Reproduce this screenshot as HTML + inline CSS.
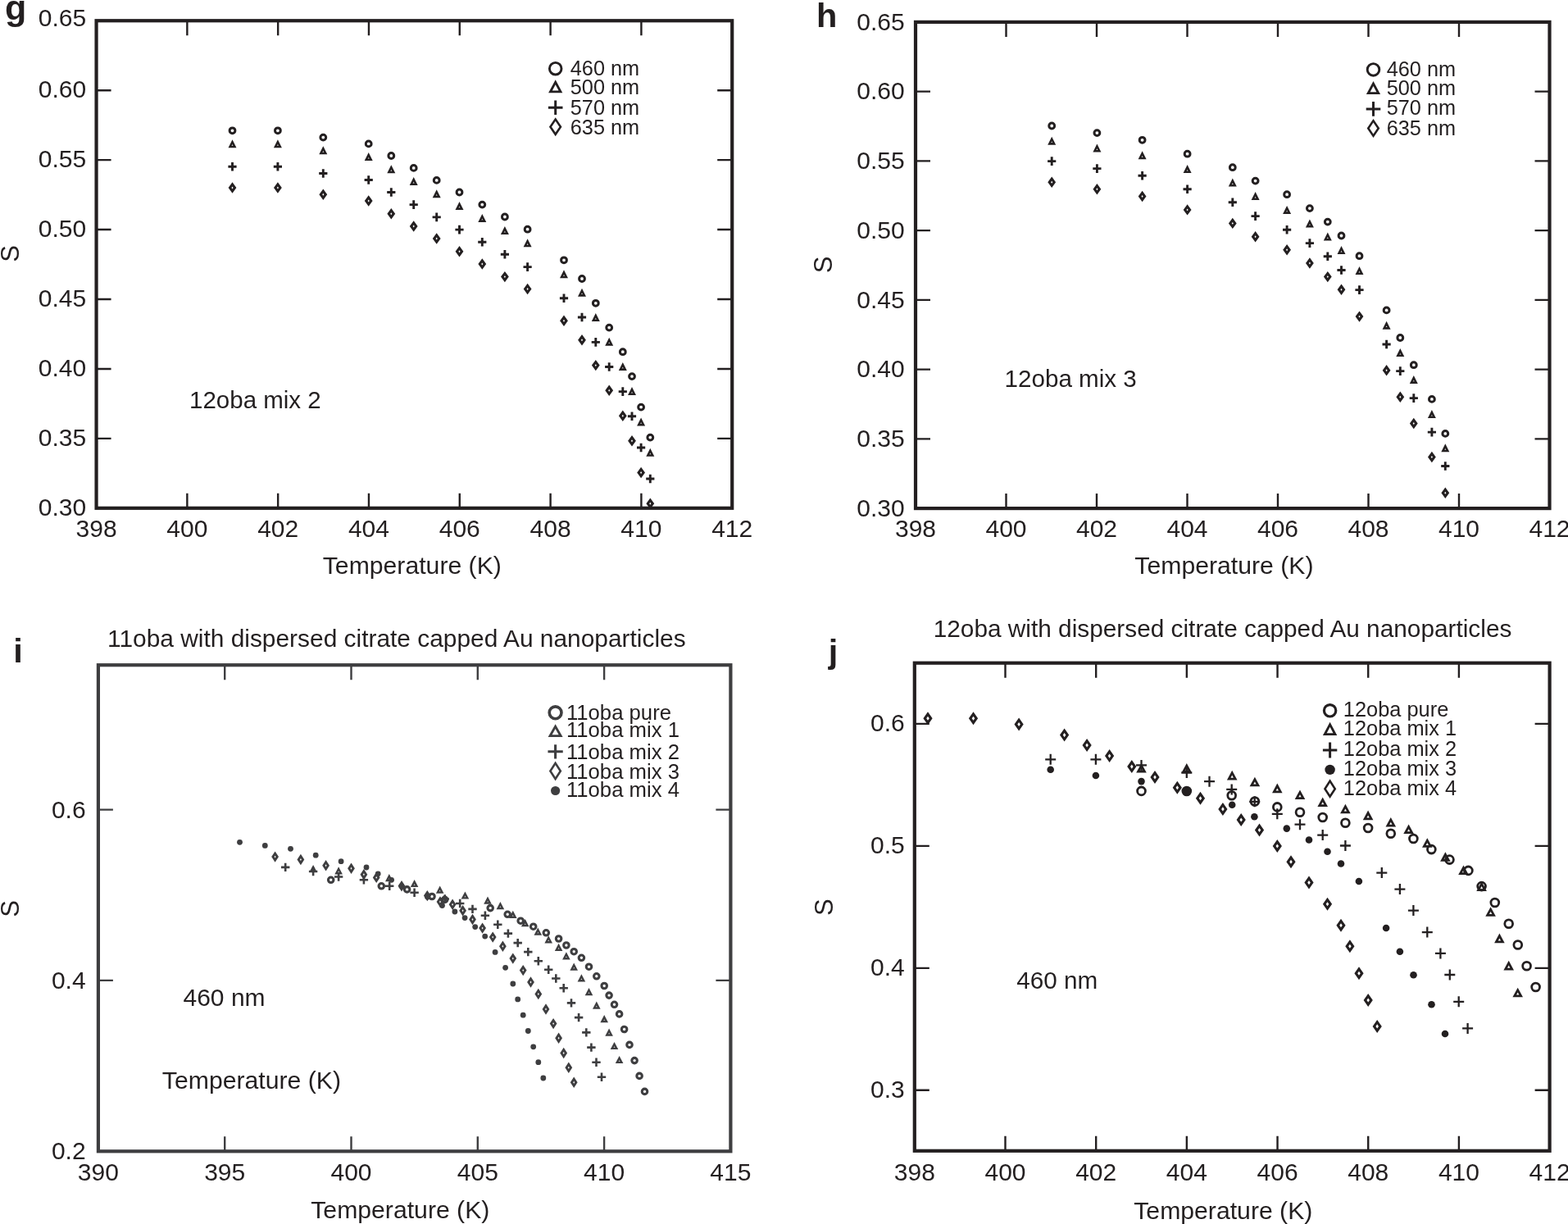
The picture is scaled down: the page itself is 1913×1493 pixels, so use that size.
<!DOCTYPE html>
<html><head><meta charset="utf-8"><title>Order parameter S vs temperature</title>
<style>html,body{margin:0;padding:0;background:#fff;}svg{display:block;}text{font-family:'Liberation Sans', Arial, Helvetica, sans-serif;}</style>
</head><body>
<svg width="1913" height="1493" viewBox="0 0 1913 1493">
<rect width="1913" height="1493" fill="#fff"/>
<text transform="translate(6 23.5)" font-size="43" font-weight="bold" fill="#231f20">g</text>
<text transform="translate(995.9 32.9)" font-size="41.5" font-weight="bold" fill="#231f20">h</text>
<text transform="translate(16.2 808.3)" font-size="41.5" font-weight="bold" fill="#231f20">i</text>
<text transform="translate(1010.7 809)" font-size="41.5" font-weight="bold" fill="#231f20">j</text>
<rect x="117.55" y="25.25" width="775.65" height="594.55" fill="none" stroke="#231f20" stroke-width="4.2"/>
<path d="M228.36 619.8V601.8M228.36 25.25V43.25M339.16 619.8V601.8M339.16 25.25V43.25M449.97 619.8V601.8M449.97 25.25V43.25M560.78 619.8V601.8M560.78 25.25V43.25M671.59 619.8V601.8M671.59 25.25V43.25M782.39 619.8V601.8M782.39 25.25V43.25M117.55 534.86H135.55M893.2 534.86H875.2M117.55 449.93H135.55M893.2 449.93H875.2M117.55 364.99H135.55M893.2 364.99H875.2M117.55 280.06H135.55M893.2 280.06H875.2M117.55 195.12H135.55M893.2 195.12H875.2M117.55 110.19H135.55M893.2 110.19H875.2" stroke="#231f20" stroke-width="2.4" fill="none"/>
<text transform="translate(117.55 654.7)" font-size="30" text-anchor="middle" fill="#231f20">398</text>
<text transform="translate(228.36 654.7)" font-size="30" text-anchor="middle" fill="#231f20">400</text>
<text transform="translate(339.16 654.7)" font-size="30" text-anchor="middle" fill="#231f20">402</text>
<text transform="translate(449.97 654.7)" font-size="30" text-anchor="middle" fill="#231f20">404</text>
<text transform="translate(560.78 654.7)" font-size="30" text-anchor="middle" fill="#231f20">406</text>
<text transform="translate(671.59 654.7)" font-size="30" text-anchor="middle" fill="#231f20">408</text>
<text transform="translate(782.39 654.7)" font-size="30" text-anchor="middle" fill="#231f20">410</text>
<text transform="translate(893.2 654.7)" font-size="30" text-anchor="middle" fill="#231f20">412</text>
<text transform="translate(105.2 629.1)" font-size="30" text-anchor="end" fill="#231f20">0.30</text>
<text transform="translate(105.2 544.16)" font-size="30" text-anchor="end" fill="#231f20">0.35</text>
<text transform="translate(105.2 459.23)" font-size="30" text-anchor="end" fill="#231f20">0.40</text>
<text transform="translate(105.2 374.29)" font-size="30" text-anchor="end" fill="#231f20">0.45</text>
<text transform="translate(105.2 289.36)" font-size="30" text-anchor="end" fill="#231f20">0.50</text>
<text transform="translate(105.2 204.42)" font-size="30" text-anchor="end" fill="#231f20">0.55</text>
<text transform="translate(105.2 119.49)" font-size="30" text-anchor="end" fill="#231f20">0.60</text>
<text transform="translate(105.2 32.25)" font-size="30" text-anchor="end" fill="#231f20">0.65</text>
<text transform="translate(502.8 700)" font-size="30.2" text-anchor="middle" fill="#231f20">Temperature (K)</text>
<text transform="translate(22.6 309.5) rotate(-90)" font-size="31" text-anchor="middle" fill="#231f20">S</text>
<text transform="translate(231 498.1)" font-size="29.5" fill="#231f20">12oba mix 2</text>
<rect x="1117" y="26.9" width="773.5" height="593.2" fill="none" stroke="#231f20" stroke-width="4.2"/>
<path d="M1227.5 620.1V602.1M1227.5 26.9V44.9M1338 620.1V602.1M1338 26.9V44.9M1448.5 620.1V602.1M1448.5 26.9V44.9M1559 620.1V602.1M1559 26.9V44.9M1669.5 620.1V602.1M1669.5 26.9V44.9M1780 620.1V602.1M1780 26.9V44.9M1117 535.36H1135M1890.5 535.36H1872.5M1117 450.61H1135M1890.5 450.61H1872.5M1117 365.87H1135M1890.5 365.87H1872.5M1117 281.13H1135M1890.5 281.13H1872.5M1117 196.39H1135M1890.5 196.39H1872.5M1117 111.64H1135M1890.5 111.64H1872.5" stroke="#231f20" stroke-width="2.4" fill="none"/>
<text transform="translate(1117 654.7)" font-size="30" text-anchor="middle" fill="#231f20">398</text>
<text transform="translate(1227.5 654.7)" font-size="30" text-anchor="middle" fill="#231f20">400</text>
<text transform="translate(1338 654.7)" font-size="30" text-anchor="middle" fill="#231f20">402</text>
<text transform="translate(1448.5 654.7)" font-size="30" text-anchor="middle" fill="#231f20">404</text>
<text transform="translate(1559 654.7)" font-size="30" text-anchor="middle" fill="#231f20">406</text>
<text transform="translate(1669.5 654.7)" font-size="30" text-anchor="middle" fill="#231f20">408</text>
<text transform="translate(1780 654.7)" font-size="30" text-anchor="middle" fill="#231f20">410</text>
<text transform="translate(1890.5 654.7)" font-size="30" text-anchor="middle" fill="#231f20">412</text>
<text transform="translate(1103.7 629.9)" font-size="30" text-anchor="end" fill="#231f20">0.30</text>
<text transform="translate(1103.7 545.16)" font-size="30" text-anchor="end" fill="#231f20">0.35</text>
<text transform="translate(1103.7 460.41)" font-size="30" text-anchor="end" fill="#231f20">0.40</text>
<text transform="translate(1103.7 375.67)" font-size="30" text-anchor="end" fill="#231f20">0.45</text>
<text transform="translate(1103.7 290.93)" font-size="30" text-anchor="end" fill="#231f20">0.50</text>
<text transform="translate(1103.7 206.19)" font-size="30" text-anchor="end" fill="#231f20">0.55</text>
<text transform="translate(1103.7 121.44)" font-size="30" text-anchor="end" fill="#231f20">0.60</text>
<text transform="translate(1103.7 36.7)" font-size="30" text-anchor="end" fill="#231f20">0.65</text>
<text transform="translate(1493.4 700)" font-size="30.2" text-anchor="middle" fill="#231f20">Temperature (K)</text>
<text transform="translate(1015 322.8) rotate(-90)" font-size="31" text-anchor="middle" fill="#231f20">S</text>
<text transform="translate(1225.6 471.6)" font-size="29.6" fill="#231f20">12oba mix 3</text>
<rect x="119.9" y="811.2" width="771.5" height="593.1" fill="none" stroke="#3e3e40" stroke-width="4.2"/>
<path d="M274.2 1404.3V1386.3M274.2 811.2V829.2M428.5 1404.3V1386.3M428.5 811.2V829.2M582.8 1404.3V1386.3M582.8 811.2V829.2M737.1 1404.3V1386.3M737.1 811.2V829.2M119.9 1195.9H137.9M891.4 1195.9H873.4M119.9 987.6H137.9M891.4 987.6H873.4" stroke="#3e3e40" stroke-width="2.4" fill="none"/>
<text transform="translate(119.9 1440)" font-size="30" text-anchor="middle" fill="#231f20">390</text>
<text transform="translate(274.2 1440)" font-size="30" text-anchor="middle" fill="#231f20">395</text>
<text transform="translate(428.5 1440)" font-size="30" text-anchor="middle" fill="#231f20">400</text>
<text transform="translate(582.8 1440)" font-size="30" text-anchor="middle" fill="#231f20">405</text>
<text transform="translate(737.1 1440)" font-size="30" text-anchor="middle" fill="#231f20">410</text>
<text transform="translate(891.4 1440)" font-size="30" text-anchor="middle" fill="#231f20">415</text>
<text transform="translate(104.6 1414.2)" font-size="30" text-anchor="end" fill="#231f20">0.2</text>
<text transform="translate(104.6 1205.9)" font-size="30" text-anchor="end" fill="#231f20">0.4</text>
<text transform="translate(104.6 997.6)" font-size="30" text-anchor="end" fill="#231f20">0.6</text>
<text transform="translate(488.3 1486)" font-size="30.2" text-anchor="middle" fill="#231f20">Temperature (K)</text>
<text transform="translate(306.9 1327.9)" font-size="30.2" text-anchor="middle" fill="#231f20">Temperature (K)</text>
<text transform="translate(23 1108.3) rotate(-90)" font-size="31" text-anchor="middle" fill="#231f20">S</text>
<text transform="translate(223.5 1227)" font-size="30" fill="#231f20">460 nm</text>
<text transform="translate(131 788.8)" font-size="29.9" fill="#231f20">11oba with dispersed citrate capped Au nanoparticles</text>
<rect x="1115.8" y="808.7" width="774.8" height="595.1" fill="none" stroke="#231f20" stroke-width="4.2"/>
<path d="M1226.49 1403.8V1385.8M1226.49 808.7V826.7M1337.17 1403.8V1385.8M1337.17 808.7V826.7M1447.86 1403.8V1385.8M1447.86 808.7V826.7M1558.54 1403.8V1385.8M1558.54 808.7V826.7M1669.23 1403.8V1385.8M1669.23 808.7V826.7M1779.91 1403.8V1385.8M1779.91 808.7V826.7M1115.8 1329.8H1133.8M1890.6 1329.8H1872.6M1115.8 1180.83H1133.8M1890.6 1180.83H1872.6M1115.8 1031.86H1133.8M1890.6 1031.86H1872.6M1115.8 882.89H1133.8M1890.6 882.89H1872.6" stroke="#231f20" stroke-width="2.4" fill="none"/>
<text transform="translate(1115.8 1440.2)" font-size="30" text-anchor="middle" fill="#231f20">398</text>
<text transform="translate(1226.49 1440.2)" font-size="30" text-anchor="middle" fill="#231f20">400</text>
<text transform="translate(1337.17 1440.2)" font-size="30" text-anchor="middle" fill="#231f20">402</text>
<text transform="translate(1447.86 1440.2)" font-size="30" text-anchor="middle" fill="#231f20">404</text>
<text transform="translate(1558.54 1440.2)" font-size="30" text-anchor="middle" fill="#231f20">406</text>
<text transform="translate(1669.23 1440.2)" font-size="30" text-anchor="middle" fill="#231f20">408</text>
<text transform="translate(1779.91 1440.2)" font-size="30" text-anchor="middle" fill="#231f20">410</text>
<text transform="translate(1890.6 1440.2)" font-size="30" text-anchor="middle" fill="#231f20">412</text>
<text transform="translate(1103.8 1339.4)" font-size="30" text-anchor="end" fill="#231f20">0.3</text>
<text transform="translate(1103.8 1190.43)" font-size="30" text-anchor="end" fill="#231f20">0.4</text>
<text transform="translate(1103.8 1041.46)" font-size="30" text-anchor="end" fill="#231f20">0.5</text>
<text transform="translate(1103.8 892.49)" font-size="30" text-anchor="end" fill="#231f20">0.6</text>
<text transform="translate(1492.3 1486.6)" font-size="30.2" text-anchor="middle" fill="#231f20">Temperature (K)</text>
<text transform="translate(1015.6 1106.6) rotate(-90)" font-size="31" text-anchor="middle" fill="#231f20">S</text>
<text transform="translate(1240.2 1205.9)" font-size="29.7" fill="#231f20">460 nm</text>
<text transform="translate(1138.7 776.8)" font-size="29.8" fill="#231f20">12oba with dispersed citrate capped Au nanoparticles</text>
<g>
<circle cx="283.5" cy="159.3" r="3.4" fill="none" stroke="#231f20" stroke-width="3"/>
<path d="M283.5 170.3 L288.5 180.3 L278.5 180.3 Z M283.5 176.1 L284.3 177.7 L282.7 177.7 Z" fill="#231f20" fill-rule="evenodd"/>
<path d="M278.4 201.85h10.2v2.9h-10.2z M282.05 198h2.9v10.6h-2.9z" fill="#231f20"/>
<path d="M283.5 222.3 L288.4 229 L283.5 235.7 L278.6 229 Z M283.5 227.53 L284.58 229 L283.5 230.47 L282.42 229 Z" fill="#231f20" fill-rule="evenodd"/>
<circle cx="338.9" cy="159.3" r="3.4" fill="none" stroke="#231f20" stroke-width="3"/>
<path d="M338.9 170.3 L343.9 180.3 L333.9 180.3 Z M338.9 176.1 L339.7 177.7 L338.1 177.7 Z" fill="#231f20" fill-rule="evenodd"/>
<path d="M333.8 201.85h10.2v2.9h-10.2z M337.45 198h2.9v10.6h-2.9z" fill="#231f20"/>
<path d="M338.9 222.3 L343.8 229 L338.9 235.7 L334 229 Z M338.9 227.53 L339.98 229 L338.9 230.47 L337.82 229 Z" fill="#231f20" fill-rule="evenodd"/>
<circle cx="394.3" cy="167.6" r="3.4" fill="none" stroke="#231f20" stroke-width="3"/>
<path d="M394.3 178.3 L399.3 188.3 L389.3 188.3 Z M394.3 184.1 L395.1 185.7 L393.5 185.7 Z" fill="#231f20" fill-rule="evenodd"/>
<path d="M389.2 210.05h10.2v2.9h-10.2z M392.85 206.2h2.9v10.6h-2.9z" fill="#231f20"/>
<path d="M394.3 230.6 L399.2 237.3 L394.3 244 L389.4 237.3 Z M394.3 235.83 L395.38 237.3 L394.3 238.77 L393.22 237.3 Z" fill="#231f20" fill-rule="evenodd"/>
<circle cx="449.7" cy="175.4" r="3.4" fill="none" stroke="#231f20" stroke-width="3"/>
<path d="M449.7 186.1 L454.7 196.1 L444.7 196.1 Z M449.7 191.9 L450.5 193.5 L448.9 193.5 Z" fill="#231f20" fill-rule="evenodd"/>
<path d="M444.6 218.05h10.2v2.9h-10.2z M448.25 214.2h2.9v10.6h-2.9z" fill="#231f20"/>
<path d="M449.7 238.3 L454.6 245 L449.7 251.7 L444.8 245 Z M449.7 243.53 L450.78 245 L449.7 246.47 L448.62 245 Z" fill="#231f20" fill-rule="evenodd"/>
<circle cx="477.3" cy="190" r="3.4" fill="none" stroke="#231f20" stroke-width="3"/>
<path d="M477.3 201.3 L482.3 211.3 L472.3 211.3 Z M477.3 207.1 L478.1 208.7 L476.5 208.7 Z" fill="#231f20" fill-rule="evenodd"/>
<path d="M472.2 233.05h10.2v2.9h-10.2z M475.85 229.2h2.9v10.6h-2.9z" fill="#231f20"/>
<path d="M477.3 254 L482.2 260.7 L477.3 267.4 L472.4 260.7 Z M477.3 259.23 L478.38 260.7 L477.3 262.17 L476.22 260.7 Z" fill="#231f20" fill-rule="evenodd"/>
<circle cx="504.7" cy="204.9" r="3.4" fill="none" stroke="#231f20" stroke-width="3"/>
<path d="M504.7 216 L509.7 226 L499.7 226 Z M504.7 221.8 L505.5 223.4 L503.9 223.4 Z" fill="#231f20" fill-rule="evenodd"/>
<path d="M499.6 248.15h10.2v2.9h-10.2z M503.25 244.3h2.9v10.6h-2.9z" fill="#231f20"/>
<path d="M504.7 269.3 L509.6 276 L504.7 282.7 L499.8 276 Z M504.7 274.53 L505.78 276 L504.7 277.47 L503.62 276 Z" fill="#231f20" fill-rule="evenodd"/>
<circle cx="532.7" cy="219.9" r="3.4" fill="none" stroke="#231f20" stroke-width="3"/>
<path d="M532.7 231.2 L537.7 241.2 L527.7 241.2 Z M532.7 237 L533.5 238.6 L531.9 238.6 Z" fill="#231f20" fill-rule="evenodd"/>
<path d="M527.6 263.45h10.2v2.9h-10.2z M531.25 259.6h2.9v10.6h-2.9z" fill="#231f20"/>
<path d="M532.7 284.3 L537.6 291 L532.7 297.7 L527.8 291 Z M532.7 289.53 L533.78 291 L532.7 292.47 L531.62 291 Z" fill="#231f20" fill-rule="evenodd"/>
<circle cx="560.5" cy="234.5" r="3.4" fill="none" stroke="#231f20" stroke-width="3"/>
<path d="M560.5 245.9 L565.5 255.9 L555.5 255.9 Z M560.5 251.7 L561.3 253.3 L559.7 253.3 Z" fill="#231f20" fill-rule="evenodd"/>
<path d="M555.4 278.65h10.2v2.9h-10.2z M559.05 274.8h2.9v10.6h-2.9z" fill="#231f20"/>
<path d="M560.5 300 L565.4 306.7 L560.5 313.4 L555.6 306.7 Z M560.5 305.23 L561.58 306.7 L560.5 308.17 L559.42 306.7 Z" fill="#231f20" fill-rule="evenodd"/>
<circle cx="588.3" cy="249.6" r="3.4" fill="none" stroke="#231f20" stroke-width="3"/>
<path d="M588.3 260.9 L593.3 270.9 L583.3 270.9 Z M588.3 266.7 L589.1 268.3 L587.5 268.3 Z" fill="#231f20" fill-rule="evenodd"/>
<path d="M583.2 293.75h10.2v2.9h-10.2z M586.85 289.9h2.9v10.6h-2.9z" fill="#231f20"/>
<path d="M588.3 315.3 L593.2 322 L588.3 328.7 L583.4 322 Z M588.3 320.53 L589.38 322 L588.3 323.47 L587.22 322 Z" fill="#231f20" fill-rule="evenodd"/>
<circle cx="615.9" cy="264.5" r="3.4" fill="none" stroke="#231f20" stroke-width="3"/>
<path d="M615.9 276 L620.9 286 L610.9 286 Z M615.9 281.8 L616.7 283.4 L615.1 283.4 Z" fill="#231f20" fill-rule="evenodd"/>
<path d="M610.8 308.75h10.2v2.9h-10.2z M614.45 304.9h2.9v10.6h-2.9z" fill="#231f20"/>
<path d="M615.9 330.9 L620.8 337.6 L615.9 344.3 L611 337.6 Z M615.9 336.13 L616.98 337.6 L615.9 339.07 L614.82 337.6 Z" fill="#231f20" fill-rule="evenodd"/>
<circle cx="643.6" cy="279.7" r="3.4" fill="none" stroke="#231f20" stroke-width="3"/>
<path d="M643.6 291.3 L648.6 301.3 L638.6 301.3 Z M643.6 297.1 L644.4 298.7 L642.8 298.7 Z" fill="#231f20" fill-rule="evenodd"/>
<path d="M638.5 324.15h10.2v2.9h-10.2z M642.15 320.3h2.9v10.6h-2.9z" fill="#231f20"/>
<path d="M643.6 345.8 L648.5 352.5 L643.6 359.2 L638.7 352.5 Z M643.6 351.03 L644.68 352.5 L643.6 353.97 L642.52 352.5 Z" fill="#231f20" fill-rule="evenodd"/>
<circle cx="688" cy="317.3" r="3.4" fill="none" stroke="#231f20" stroke-width="3"/>
<path d="M688 329.3 L693 339.3 L683 339.3 Z M688 335.1 L688.8 336.7 L687.2 336.7 Z" fill="#231f20" fill-rule="evenodd"/>
<path d="M682.9 362.35h10.2v2.9h-10.2z M686.55 358.5h2.9v10.6h-2.9z" fill="#231f20"/>
<path d="M688 384.6 L692.9 391.3 L688 398 L683.1 391.3 Z M688 389.83 L689.08 391.3 L688 392.77 L686.92 391.3 Z" fill="#231f20" fill-rule="evenodd"/>
<circle cx="710" cy="340" r="3.4" fill="none" stroke="#231f20" stroke-width="3"/>
<path d="M710 351.7 L715 361.7 L705 361.7 Z M710 357.5 L710.8 359.1 L709.2 359.1 Z" fill="#231f20" fill-rule="evenodd"/>
<path d="M704.9 385.55h10.2v2.9h-10.2z M708.55 381.7h2.9v10.6h-2.9z" fill="#231f20"/>
<path d="M710 408 L714.9 414.7 L710 421.4 L705.1 414.7 Z M710 413.23 L711.08 414.7 L710 416.17 L708.92 414.7 Z" fill="#231f20" fill-rule="evenodd"/>
<circle cx="726.8" cy="369.8" r="3.4" fill="none" stroke="#231f20" stroke-width="3"/>
<path d="M726.8 382 L731.8 392 L721.8 392 Z M726.8 387.8 L727.6 389.4 L726 389.4 Z" fill="#231f20" fill-rule="evenodd"/>
<path d="M721.7 415.95h10.2v2.9h-10.2z M725.35 412.1h2.9v10.6h-2.9z" fill="#231f20"/>
<path d="M726.8 438.9 L731.7 445.6 L726.8 452.3 L721.9 445.6 Z M726.8 444.13 L727.88 445.6 L726.8 447.07 L725.72 445.6 Z" fill="#231f20" fill-rule="evenodd"/>
<circle cx="743.2" cy="399.6" r="3.4" fill="none" stroke="#231f20" stroke-width="3"/>
<path d="M743.2 411.7 L748.2 421.7 L738.2 421.7 Z M743.2 417.5 L744 419.1 L742.4 419.1 Z" fill="#231f20" fill-rule="evenodd"/>
<path d="M738.1 446.05h10.2v2.9h-10.2z M741.75 442.2h2.9v10.6h-2.9z" fill="#231f20"/>
<path d="M743.2 469.6 L748.1 476.3 L743.2 483 L738.3 476.3 Z M743.2 474.83 L744.28 476.3 L743.2 477.77 L742.12 476.3 Z" fill="#231f20" fill-rule="evenodd"/>
<circle cx="759.8" cy="429.2" r="3.4" fill="none" stroke="#231f20" stroke-width="3"/>
<path d="M759.8 441.9 L764.8 451.9 L754.8 451.9 Z M759.8 447.7 L760.6 449.3 L759 449.3 Z" fill="#231f20" fill-rule="evenodd"/>
<path d="M754.7 476.15h10.2v2.9h-10.2z M758.35 472.3h2.9v10.6h-2.9z" fill="#231f20"/>
<path d="M759.8 500.5 L764.7 507.2 L759.8 513.9 L754.9 507.2 Z M759.8 505.73 L760.88 507.2 L759.8 508.67 L758.72 507.2 Z" fill="#231f20" fill-rule="evenodd"/>
<circle cx="771" cy="459.1" r="3.4" fill="none" stroke="#231f20" stroke-width="3"/>
<path d="M771 472 L776 482 L766 482 Z M771 477.8 L771.8 479.4 L770.2 479.4 Z" fill="#231f20" fill-rule="evenodd"/>
<path d="M765.9 506.35h10.2v2.9h-10.2z M769.55 502.5h2.9v10.6h-2.9z" fill="#231f20"/>
<path d="M771 531.1 L775.9 537.8 L771 544.5 L766.1 537.8 Z M771 536.33 L772.08 537.8 L771 539.27 L769.92 537.8 Z" fill="#231f20" fill-rule="evenodd"/>
<circle cx="782.1" cy="496.6" r="3.4" fill="none" stroke="#231f20" stroke-width="3"/>
<path d="M782.1 509.4 L787.1 519.4 L777.1 519.4 Z M782.1 515.2 L782.9 516.8 L781.3 516.8 Z" fill="#231f20" fill-rule="evenodd"/>
<path d="M777 544.55h10.2v2.9h-10.2z M780.65 540.7h2.9v10.6h-2.9z" fill="#231f20"/>
<path d="M782.1 569.8 L787 576.5 L782.1 583.2 L777.2 576.5 Z M782.1 575.03 L783.18 576.5 L782.1 577.97 L781.02 576.5 Z" fill="#231f20" fill-rule="evenodd"/>
<circle cx="793.3" cy="533.6" r="3.4" fill="none" stroke="#231f20" stroke-width="3"/>
<path d="M793.3 546.8 L798.3 556.8 L788.3 556.8 Z M793.3 552.6 L794.1 554.2 L792.5 554.2 Z" fill="#231f20" fill-rule="evenodd"/>
<path d="M788.2 582.55h10.2v2.9h-10.2z M791.85 578.7h2.9v10.6h-2.9z" fill="#231f20"/>
<path d="M793.3 607.5 L798.2 614.2 L793.3 620.9 L788.4 614.2 Z M793.3 612.73 L794.38 614.2 L793.3 615.67 L792.22 614.2 Z" fill="#231f20" fill-rule="evenodd"/>
<circle cx="1283.2" cy="153.5" r="3.4" fill="none" stroke="#231f20" stroke-width="3"/>
<path d="M1283.2 166.7 L1288.2 176.7 L1278.2 176.7 Z M1283.2 172.5 L1284 174.1 L1282.4 174.1 Z" fill="#231f20" fill-rule="evenodd"/>
<path d="M1278.1 195.15h10.2v2.9h-10.2z M1281.75 191.3h2.9v10.6h-2.9z" fill="#231f20"/>
<path d="M1283.2 215.5 L1288.1 222.2 L1283.2 228.9 L1278.3 222.2 Z M1283.2 220.73 L1284.28 222.2 L1283.2 223.67 L1282.12 222.2 Z" fill="#231f20" fill-rule="evenodd"/>
<circle cx="1338.4" cy="162.1" r="3.4" fill="none" stroke="#231f20" stroke-width="3"/>
<path d="M1338.4 175.5 L1343.4 185.5 L1333.4 185.5 Z M1338.4 181.3 L1339.2 182.9 L1337.6 182.9 Z" fill="#231f20" fill-rule="evenodd"/>
<path d="M1333.3 204.15h10.2v2.9h-10.2z M1336.95 200.3h2.9v10.6h-2.9z" fill="#231f20"/>
<path d="M1338.4 224.1 L1343.3 230.8 L1338.4 237.5 L1333.5 230.8 Z M1338.4 229.33 L1339.48 230.8 L1338.4 232.27 L1337.32 230.8 Z" fill="#231f20" fill-rule="evenodd"/>
<circle cx="1393.6" cy="170.8" r="3.4" fill="none" stroke="#231f20" stroke-width="3"/>
<path d="M1393.6 184.3 L1398.6 194.3 L1388.6 194.3 Z M1393.6 190.1 L1394.4 191.7 L1392.8 191.7 Z" fill="#231f20" fill-rule="evenodd"/>
<path d="M1388.5 212.75h10.2v2.9h-10.2z M1392.15 208.9h2.9v10.6h-2.9z" fill="#231f20"/>
<path d="M1393.6 232.8 L1398.5 239.5 L1393.6 246.2 L1388.7 239.5 Z M1393.6 238.03 L1394.68 239.5 L1393.6 240.97 L1392.52 239.5 Z" fill="#231f20" fill-rule="evenodd"/>
<circle cx="1448.6" cy="187.7" r="3.4" fill="none" stroke="#231f20" stroke-width="3"/>
<path d="M1448.6 201.1 L1453.6 211.1 L1443.6 211.1 Z M1448.6 206.9 L1449.4 208.5 L1447.8 208.5 Z" fill="#231f20" fill-rule="evenodd"/>
<path d="M1443.5 229.35h10.2v2.9h-10.2z M1447.15 225.5h2.9v10.6h-2.9z" fill="#231f20"/>
<path d="M1448.6 249.2 L1453.5 255.9 L1448.6 262.6 L1443.7 255.9 Z M1448.6 254.43 L1449.68 255.9 L1448.6 257.37 L1447.52 255.9 Z" fill="#231f20" fill-rule="evenodd"/>
<circle cx="1503.8" cy="204.2" r="3.4" fill="none" stroke="#231f20" stroke-width="3"/>
<path d="M1503.8 217.5 L1508.8 227.5 L1498.8 227.5 Z M1503.8 223.3 L1504.6 224.9 L1503 224.9 Z" fill="#231f20" fill-rule="evenodd"/>
<path d="M1498.7 245.35h10.2v2.9h-10.2z M1502.35 241.5h2.9v10.6h-2.9z" fill="#231f20"/>
<path d="M1503.8 265.7 L1508.7 272.4 L1503.8 279.1 L1498.9 272.4 Z M1503.8 270.93 L1504.88 272.4 L1503.8 273.87 L1502.72 272.4 Z" fill="#231f20" fill-rule="evenodd"/>
<circle cx="1531.6" cy="220.6" r="3.4" fill="none" stroke="#231f20" stroke-width="3"/>
<path d="M1531.6 234 L1536.6 244 L1526.6 244 Z M1531.6 239.8 L1532.4 241.4 L1530.8 241.4 Z" fill="#231f20" fill-rule="evenodd"/>
<path d="M1526.5 262.15h10.2v2.9h-10.2z M1530.15 258.3h2.9v10.6h-2.9z" fill="#231f20"/>
<path d="M1531.6 282 L1536.5 288.7 L1531.6 295.4 L1526.7 288.7 Z M1531.6 287.23 L1532.68 288.7 L1531.6 290.17 L1530.52 288.7 Z" fill="#231f20" fill-rule="evenodd"/>
<circle cx="1570.1" cy="237.2" r="3.4" fill="none" stroke="#231f20" stroke-width="3"/>
<path d="M1570.1 250.9 L1575.1 260.9 L1565.1 260.9 Z M1570.1 256.7 L1570.9 258.3 L1569.3 258.3 Z" fill="#231f20" fill-rule="evenodd"/>
<path d="M1565 278.85h10.2v2.9h-10.2z M1568.65 275h2.9v10.6h-2.9z" fill="#231f20"/>
<path d="M1570.1 298.1 L1575 304.8 L1570.1 311.5 L1565.2 304.8 Z M1570.1 303.33 L1571.18 304.8 L1570.1 306.27 L1569.02 304.8 Z" fill="#231f20" fill-rule="evenodd"/>
<circle cx="1597.9" cy="254.1" r="3.4" fill="none" stroke="#231f20" stroke-width="3"/>
<path d="M1597.9 267.4 L1602.9 277.4 L1592.9 277.4 Z M1597.9 273.2 L1598.7 274.8 L1597.1 274.8 Z" fill="#231f20" fill-rule="evenodd"/>
<path d="M1592.8 295.15h10.2v2.9h-10.2z M1596.45 291.3h2.9v10.6h-2.9z" fill="#231f20"/>
<path d="M1597.9 314.3 L1602.8 321 L1597.9 327.7 L1593 321 Z M1597.9 319.53 L1598.98 321 L1597.9 322.47 L1596.82 321 Z" fill="#231f20" fill-rule="evenodd"/>
<circle cx="1619.8" cy="270.6" r="3.4" fill="none" stroke="#231f20" stroke-width="3"/>
<path d="M1619.8 283.5 L1624.8 293.5 L1614.8 293.5 Z M1619.8 289.3 L1620.6 290.9 L1619 290.9 Z" fill="#231f20" fill-rule="evenodd"/>
<path d="M1614.7 311.35h10.2v2.9h-10.2z M1618.35 307.5h2.9v10.6h-2.9z" fill="#231f20"/>
<path d="M1619.8 330.9 L1624.7 337.6 L1619.8 344.3 L1614.9 337.6 Z M1619.8 336.13 L1620.88 337.6 L1619.8 339.07 L1618.72 337.6 Z" fill="#231f20" fill-rule="evenodd"/>
<circle cx="1636.5" cy="287.5" r="3.4" fill="none" stroke="#231f20" stroke-width="3"/>
<path d="M1636.5 300 L1641.5 310 L1631.5 310 Z M1636.5 305.8 L1637.3 307.4 L1635.7 307.4 Z" fill="#231f20" fill-rule="evenodd"/>
<path d="M1631.4 328.05h10.2v2.9h-10.2z M1635.05 324.2h2.9v10.6h-2.9z" fill="#231f20"/>
<path d="M1636.5 346.5 L1641.4 353.2 L1636.5 359.9 L1631.6 353.2 Z M1636.5 351.73 L1637.58 353.2 L1636.5 354.67 L1635.42 353.2 Z" fill="#231f20" fill-rule="evenodd"/>
<circle cx="1658.5" cy="312.2" r="3.4" fill="none" stroke="#231f20" stroke-width="3"/>
<path d="M1658.5 325 L1663.5 335 L1653.5 335 Z M1658.5 330.8 L1659.3 332.4 L1657.7 332.4 Z" fill="#231f20" fill-rule="evenodd"/>
<path d="M1653.4 352.15h10.2v2.9h-10.2z M1657.05 348.3h2.9v10.6h-2.9z" fill="#231f20"/>
<path d="M1658.5 379.4 L1663.4 386.1 L1658.5 392.8 L1653.6 386.1 Z M1658.5 384.63 L1659.58 386.1 L1658.5 387.57 L1657.42 386.1 Z" fill="#231f20" fill-rule="evenodd"/>
<circle cx="1691.6" cy="378.4" r="3.4" fill="none" stroke="#231f20" stroke-width="3"/>
<path d="M1691.6 391.7 L1696.6 401.7 L1686.6 401.7 Z M1691.6 397.5 L1692.4 399.1 L1690.8 399.1 Z" fill="#231f20" fill-rule="evenodd"/>
<path d="M1686.5 418.55h10.2v2.9h-10.2z M1690.15 414.7h2.9v10.6h-2.9z" fill="#231f20"/>
<path d="M1691.6 445 L1696.5 451.7 L1691.6 458.4 L1686.7 451.7 Z M1691.6 450.23 L1692.68 451.7 L1691.6 453.17 L1690.52 451.7 Z" fill="#231f20" fill-rule="evenodd"/>
<circle cx="1708.3" cy="412" r="3.4" fill="none" stroke="#231f20" stroke-width="3"/>
<path d="M1708.3 425.1 L1713.3 435.1 L1703.3 435.1 Z M1708.3 430.9 L1709.1 432.5 L1707.5 432.5 Z" fill="#231f20" fill-rule="evenodd"/>
<path d="M1703.2 451.15h10.2v2.9h-10.2z M1706.85 447.3h2.9v10.6h-2.9z" fill="#231f20"/>
<path d="M1708.3 477.5 L1713.2 484.2 L1708.3 490.9 L1703.4 484.2 Z M1708.3 482.73 L1709.38 484.2 L1708.3 485.67 L1707.22 484.2 Z" fill="#231f20" fill-rule="evenodd"/>
<circle cx="1724.8" cy="445.2" r="3.4" fill="none" stroke="#231f20" stroke-width="3"/>
<path d="M1724.8 457.9 L1729.8 467.9 L1719.8 467.9 Z M1724.8 463.7 L1725.6 465.3 L1724 465.3 Z" fill="#231f20" fill-rule="evenodd"/>
<path d="M1719.7 484.15h10.2v2.9h-10.2z M1723.35 480.3h2.9v10.6h-2.9z" fill="#231f20"/>
<path d="M1724.8 509.8 L1729.7 516.5 L1724.8 523.2 L1719.9 516.5 Z M1724.8 515.03 L1725.88 516.5 L1724.8 517.97 L1723.72 516.5 Z" fill="#231f20" fill-rule="evenodd"/>
<circle cx="1746.9" cy="486.9" r="3.4" fill="none" stroke="#231f20" stroke-width="3"/>
<path d="M1746.9 500.1 L1751.9 510.1 L1741.9 510.1 Z M1746.9 505.9 L1747.7 507.5 L1746.1 507.5 Z" fill="#231f20" fill-rule="evenodd"/>
<path d="M1741.8 525.65h10.2v2.9h-10.2z M1745.45 521.8h2.9v10.6h-2.9z" fill="#231f20"/>
<path d="M1746.9 550.8 L1751.8 557.5 L1746.9 564.2 L1742 557.5 Z M1746.9 556.03 L1747.98 557.5 L1746.9 558.97 L1745.82 557.5 Z" fill="#231f20" fill-rule="evenodd"/>
<circle cx="1763.3" cy="528.9" r="3.4" fill="none" stroke="#231f20" stroke-width="3"/>
<path d="M1763.3 541.3 L1768.3 551.3 L1758.3 551.3 Z M1763.3 547.1 L1764.1 548.7 L1762.5 548.7 Z" fill="#231f20" fill-rule="evenodd"/>
<path d="M1758.2 567.05h10.2v2.9h-10.2z M1761.85 563.2h2.9v10.6h-2.9z" fill="#231f20"/>
<path d="M1763.3 594.6 L1768.2 601.3 L1763.3 608 L1758.4 601.3 Z M1763.3 599.83 L1764.38 601.3 L1763.3 602.77 L1762.22 601.3 Z" fill="#231f20" fill-rule="evenodd"/>
</g>
<g>
<circle cx="403.7" cy="1073.3" r="3.25" fill="none" stroke="#3e3e40" stroke-width="3.1"/>
<circle cx="465.3" cy="1080.8" r="3.25" fill="none" stroke="#3e3e40" stroke-width="3.1"/>
<circle cx="496.6" cy="1084.9" r="3.25" fill="none" stroke="#3e3e40" stroke-width="3.1"/>
<circle cx="527" cy="1093.5" r="3.25" fill="none" stroke="#3e3e40" stroke-width="3.1"/>
<circle cx="542.7" cy="1097.3" r="3.25" fill="none" stroke="#3e3e40" stroke-width="3.1"/>
<circle cx="598.2" cy="1107.6" r="3.25" fill="none" stroke="#3e3e40" stroke-width="3.1"/>
<circle cx="619.2" cy="1115.3" r="3.25" fill="none" stroke="#3e3e40" stroke-width="3.1"/>
<circle cx="635.2" cy="1123.2" r="3.25" fill="none" stroke="#3e3e40" stroke-width="3.1"/>
<circle cx="650.7" cy="1130.2" r="3.25" fill="none" stroke="#3e3e40" stroke-width="3.1"/>
<circle cx="666.3" cy="1137.8" r="3.25" fill="none" stroke="#3e3e40" stroke-width="3.1"/>
<circle cx="681.6" cy="1145" r="3.25" fill="none" stroke="#3e3e40" stroke-width="3.1"/>
<circle cx="690.9" cy="1153" r="3.25" fill="none" stroke="#3e3e40" stroke-width="3.1"/>
<circle cx="700.2" cy="1160.7" r="3.25" fill="none" stroke="#3e3e40" stroke-width="3.1"/>
<circle cx="709.4" cy="1168.3" r="3.25" fill="none" stroke="#3e3e40" stroke-width="3.1"/>
<circle cx="718.5" cy="1179.2" r="3.25" fill="none" stroke="#3e3e40" stroke-width="3.1"/>
<circle cx="727.8" cy="1190.8" r="3.25" fill="none" stroke="#3e3e40" stroke-width="3.1"/>
<circle cx="737.2" cy="1202.5" r="3.25" fill="none" stroke="#3e3e40" stroke-width="3.1"/>
<circle cx="743.1" cy="1214.1" r="3.25" fill="none" stroke="#3e3e40" stroke-width="3.1"/>
<circle cx="749.5" cy="1225.3" r="3.25" fill="none" stroke="#3e3e40" stroke-width="3.1"/>
<circle cx="755.6" cy="1236.9" r="3.25" fill="none" stroke="#3e3e40" stroke-width="3.1"/>
<circle cx="761.6" cy="1255.5" r="3.25" fill="none" stroke="#3e3e40" stroke-width="3.1"/>
<circle cx="768" cy="1274.4" r="3.25" fill="none" stroke="#3e3e40" stroke-width="3.1"/>
<circle cx="774.1" cy="1293.6" r="3.25" fill="none" stroke="#3e3e40" stroke-width="3.1"/>
<circle cx="780.1" cy="1312.4" r="3.25" fill="none" stroke="#3e3e40" stroke-width="3.1"/>
<circle cx="786.5" cy="1331.4" r="3.25" fill="none" stroke="#3e3e40" stroke-width="3.1"/>
<path d="M382.1 1054.9 L386.9 1064.1 L377.3 1064.1 Z M382.1 1060.18 L382.87 1061.66 L381.33 1061.66 Z" fill="#3e3e40" fill-rule="evenodd"/>
<path d="M413.1 1057.2 L417.9 1066.4 L408.3 1066.4 Z M413.1 1062.48 L413.87 1063.96 L412.33 1063.96 Z" fill="#3e3e40" fill-rule="evenodd"/>
<path d="M474.8 1066 L479.6 1075.2 L470 1075.2 Z M474.8 1071.28 L475.57 1072.76 L474.03 1072.76 Z" fill="#3e3e40" fill-rule="evenodd"/>
<path d="M505.6 1072.9 L510.4 1082.1 L500.8 1082.1 Z M505.6 1078.18 L506.37 1079.66 L504.83 1079.66 Z" fill="#3e3e40" fill-rule="evenodd"/>
<path d="M536.7 1080.5 L541.5 1089.7 L531.9 1089.7 Z M536.7 1085.78 L537.47 1087.26 L535.93 1087.26 Z" fill="#3e3e40" fill-rule="evenodd"/>
<path d="M567.4 1087.4 L572.2 1096.6 L562.6 1096.6 Z M567.4 1092.68 L568.17 1094.16 L566.63 1094.16 Z" fill="#3e3e40" fill-rule="evenodd"/>
<path d="M595 1093.6 L599.8 1102.8 L590.2 1102.8 Z M595 1098.88 L595.77 1100.36 L594.23 1100.36 Z" fill="#3e3e40" fill-rule="evenodd"/>
<path d="M610.4 1100 L615.2 1109.2 L605.6 1109.2 Z M610.4 1105.28 L611.17 1106.76 L609.63 1106.76 Z" fill="#3e3e40" fill-rule="evenodd"/>
<path d="M625.8 1110.7 L630.6 1119.9 L621 1119.9 Z M625.8 1115.98 L626.57 1117.46 L625.03 1117.46 Z" fill="#3e3e40" fill-rule="evenodd"/>
<path d="M640.7 1121.1 L645.5 1130.3 L635.9 1130.3 Z M640.7 1126.38 L641.47 1127.86 L639.93 1127.86 Z" fill="#3e3e40" fill-rule="evenodd"/>
<path d="M656.3 1131.6 L661.1 1140.8 L651.5 1140.8 Z M656.3 1136.88 L657.07 1138.36 L655.53 1138.36 Z" fill="#3e3e40" fill-rule="evenodd"/>
<path d="M669.2 1141.2 L674 1150.4 L664.4 1150.4 Z M669.2 1146.48 L669.97 1147.96 L668.43 1147.96 Z" fill="#3e3e40" fill-rule="evenodd"/>
<path d="M681.6 1150.8 L686.4 1160 L676.8 1160 Z M681.6 1156.08 L682.37 1157.56 L680.83 1157.56 Z" fill="#3e3e40" fill-rule="evenodd"/>
<path d="M690.9 1161.3 L695.7 1170.5 L686.1 1170.5 Z M690.9 1166.58 L691.67 1168.06 L690.13 1168.06 Z" fill="#3e3e40" fill-rule="evenodd"/>
<path d="M700.2 1174.5 L705 1183.7 L695.4 1183.7 Z M700.2 1179.78 L700.97 1181.26 L699.43 1181.26 Z" fill="#3e3e40" fill-rule="evenodd"/>
<path d="M709.4 1188.3 L714.2 1197.5 L704.6 1197.5 Z M709.4 1193.58 L710.17 1195.06 L708.63 1195.06 Z" fill="#3e3e40" fill-rule="evenodd"/>
<path d="M718.5 1205 L723.3 1214.2 L713.7 1214.2 Z M718.5 1210.28 L719.27 1211.76 L717.73 1211.76 Z" fill="#3e3e40" fill-rule="evenodd"/>
<path d="M727.8 1221.5 L732.6 1230.7 L723 1230.7 Z M727.8 1226.78 L728.57 1228.26 L727.03 1228.26 Z" fill="#3e3e40" fill-rule="evenodd"/>
<path d="M737.2 1238.1 L742 1247.3 L732.4 1247.3 Z M737.2 1243.38 L737.97 1244.86 L736.43 1244.86 Z" fill="#3e3e40" fill-rule="evenodd"/>
<path d="M743.1 1254.5 L747.9 1263.7 L738.3 1263.7 Z M743.1 1259.78 L743.87 1261.26 L742.33 1261.26 Z" fill="#3e3e40" fill-rule="evenodd"/>
<path d="M749.5 1270.9 L754.3 1280.1 L744.7 1280.1 Z M749.5 1276.18 L750.27 1277.66 L748.73 1277.66 Z" fill="#3e3e40" fill-rule="evenodd"/>
<path d="M755.6 1287.9 L760.4 1297.1 L750.8 1297.1 Z M755.6 1293.18 L756.37 1294.66 L754.83 1294.66 Z" fill="#3e3e40" fill-rule="evenodd"/>
<path d="M343 1056.6h10.4v2.6h-10.4z M346.9 1052.7h2.6v10.4h-2.6z" fill="#3e3e40"/>
<path d="M376.9 1061.7h10.4v2.6h-10.4z M380.8 1057.8h2.6v10.4h-2.6z" fill="#3e3e40"/>
<path d="M407.9 1068.2h10.4v2.6h-10.4z M411.8 1064.3h2.6v10.4h-2.6z" fill="#3e3e40"/>
<path d="M438.7 1072h10.4v2.6h-10.4z M442.6 1068.1h2.6v10.4h-2.6z" fill="#3e3e40"/>
<path d="M470 1079.5h10.4v2.6h-10.4z M473.9 1075.6h2.6v10.4h-2.6z" fill="#3e3e40"/>
<path d="M500.4 1087.5h10.4v2.6h-10.4z M504.3 1083.6h2.6v10.4h-2.6z" fill="#3e3e40"/>
<path d="M537.5 1095.2h10.4v2.6h-10.4z M541.4 1091.3h2.6v10.4h-2.6z" fill="#3e3e40"/>
<path d="M556 1100.7h10.4v2.6h-10.4z M559.9 1096.8h2.6v10.4h-2.6z" fill="#3e3e40"/>
<path d="M571.3 1107.6h10.4v2.6h-10.4z M575.2 1103.7h2.6v10.4h-2.6z" fill="#3e3e40"/>
<path d="M586.7 1115.5h10.4v2.6h-10.4z M590.6 1111.6h2.6v10.4h-2.6z" fill="#3e3e40"/>
<path d="M602.1 1126.4h10.4v2.6h-10.4z M606 1122.5h2.6v10.4h-2.6z" fill="#3e3e40"/>
<path d="M614.7 1137.3h10.4v2.6h-10.4z M618.6 1133.4h2.6v10.4h-2.6z" fill="#3e3e40"/>
<path d="M626.5 1148.8h10.4v2.6h-10.4z M630.4 1144.9h2.6v10.4h-2.6z" fill="#3e3e40"/>
<path d="M639.1 1159.8h10.4v2.6h-10.4z M643 1155.9h2.6v10.4h-2.6z" fill="#3e3e40"/>
<path d="M651.6 1171h10.4v2.6h-10.4z M655.5 1167.1h2.6v10.4h-2.6z" fill="#3e3e40"/>
<path d="M664 1181.5h10.4v2.6h-10.4z M667.9 1177.6h2.6v10.4h-2.6z" fill="#3e3e40"/>
<path d="M673.1 1192.2h10.4v2.6h-10.4z M677 1188.3h2.6v10.4h-2.6z" fill="#3e3e40"/>
<path d="M682.5 1204h10.4v2.6h-10.4z M686.4 1200.1h2.6v10.4h-2.6z" fill="#3e3e40"/>
<path d="M691.8 1222.1h10.4v2.6h-10.4z M695.7 1218.2h2.6v10.4h-2.6z" fill="#3e3e40"/>
<path d="M700.9 1239.8h10.4v2.6h-10.4z M704.8 1235.9h2.6v10.4h-2.6z" fill="#3e3e40"/>
<path d="M710.1 1258.1h10.4v2.6h-10.4z M714 1254.2h2.6v10.4h-2.6z" fill="#3e3e40"/>
<path d="M716.2 1276.3h10.4v2.6h-10.4z M720.1 1272.4h2.6v10.4h-2.6z" fill="#3e3e40"/>
<path d="M722.3 1294.4h10.4v2.6h-10.4z M726.2 1290.5h2.6v10.4h-2.6z" fill="#3e3e40"/>
<path d="M728.8 1312.4h10.4v2.6h-10.4z M732.7 1308.5h2.6v10.4h-2.6z" fill="#3e3e40"/>
<path d="M335.6 1038.4 L340 1045.1 L335.6 1051.8 L331.2 1045.1 Z M335.6 1043.63 L336.57 1045.1 L335.6 1046.57 L334.63 1045.1 Z" fill="#3e3e40" fill-rule="evenodd"/>
<path d="M366.9 1041.8 L371.3 1048.5 L366.9 1055.2 L362.5 1048.5 Z M366.9 1047.03 L367.87 1048.5 L366.9 1049.97 L365.93 1048.5 Z" fill="#3e3e40" fill-rule="evenodd"/>
<path d="M397.6 1049 L402 1055.7 L397.6 1062.4 L393.2 1055.7 Z M397.6 1054.23 L398.57 1055.7 L397.6 1057.17 L396.63 1055.7 Z" fill="#3e3e40" fill-rule="evenodd"/>
<path d="M428.5 1052.5 L432.9 1059.2 L428.5 1065.9 L424.1 1059.2 Z M428.5 1057.73 L429.47 1059.2 L428.5 1060.67 L427.53 1059.2 Z" fill="#3e3e40" fill-rule="evenodd"/>
<path d="M443.9 1060 L448.3 1066.7 L443.9 1073.4 L439.5 1066.7 Z M443.9 1065.23 L444.87 1066.7 L443.9 1068.17 L442.93 1066.7 Z" fill="#3e3e40" fill-rule="evenodd"/>
<path d="M459.2 1063.7 L463.6 1070.4 L459.2 1077.1 L454.8 1070.4 Z M459.2 1068.93 L460.17 1070.4 L459.2 1071.87 L458.23 1070.4 Z" fill="#3e3e40" fill-rule="evenodd"/>
<path d="M490 1074.1 L494.4 1080.8 L490 1087.5 L485.6 1080.8 Z M490 1079.33 L490.97 1080.8 L490 1082.27 L489.03 1080.8 Z" fill="#3e3e40" fill-rule="evenodd"/>
<path d="M521.3 1085.9 L525.7 1092.6 L521.3 1099.3 L516.9 1092.6 Z M521.3 1091.13 L522.27 1092.6 L521.3 1094.07 L520.33 1092.6 Z" fill="#3e3e40" fill-rule="evenodd"/>
<path d="M537 1093.3 L541.4 1100 L537 1106.7 L532.6 1100 Z M537 1098.53 L537.97 1100 L537 1101.47 L536.03 1100 Z" fill="#3e3e40" fill-rule="evenodd"/>
<path d="M552.1 1096.6 L556.5 1103.3 L552.1 1110 L547.7 1103.3 Z M552.1 1101.83 L553.07 1103.3 L552.1 1104.77 L551.13 1103.3 Z" fill="#3e3e40" fill-rule="evenodd"/>
<path d="M564.6 1104.1 L569 1110.8 L564.6 1117.5 L560.2 1110.8 Z M564.6 1109.33 L565.57 1110.8 L564.6 1112.27 L563.63 1110.8 Z" fill="#3e3e40" fill-rule="evenodd"/>
<path d="M576.5 1114.8 L580.9 1121.5 L576.5 1128.2 L572.1 1121.5 Z M576.5 1120.03 L577.47 1121.5 L576.5 1122.97 L575.53 1121.5 Z" fill="#3e3e40" fill-rule="evenodd"/>
<path d="M588.6 1125.4 L593 1132.1 L588.6 1138.8 L584.2 1132.1 Z M588.6 1130.63 L589.57 1132.1 L588.6 1133.57 L587.63 1132.1 Z" fill="#3e3e40" fill-rule="evenodd"/>
<path d="M601.2 1136.4 L605.6 1143.1 L601.2 1149.8 L596.8 1143.1 Z M601.2 1141.63 L602.17 1143.1 L601.2 1144.57 L600.23 1143.1 Z" fill="#3e3e40" fill-rule="evenodd"/>
<path d="M613.4 1147.6 L617.8 1154.3 L613.4 1161 L609 1154.3 Z M613.4 1152.83 L614.37 1154.3 L613.4 1155.77 L612.43 1154.3 Z" fill="#3e3e40" fill-rule="evenodd"/>
<path d="M625.8 1162.4 L630.2 1169.1 L625.8 1175.8 L621.4 1169.1 Z M625.8 1167.63 L626.77 1169.1 L625.8 1170.57 L624.83 1169.1 Z" fill="#3e3e40" fill-rule="evenodd"/>
<path d="M638.2 1176.9 L642.6 1183.6 L638.2 1190.3 L633.8 1183.6 Z M638.2 1182.13 L639.17 1183.6 L638.2 1185.07 L637.23 1183.6 Z" fill="#3e3e40" fill-rule="evenodd"/>
<path d="M647.5 1191.3 L651.9 1198 L647.5 1204.7 L643.1 1198 Z M647.5 1196.53 L648.47 1198 L647.5 1199.47 L646.53 1198 Z" fill="#3e3e40" fill-rule="evenodd"/>
<path d="M656.8 1205.8 L661.2 1212.5 L656.8 1219.2 L652.4 1212.5 Z M656.8 1211.03 L657.77 1212.5 L656.8 1213.97 L655.83 1212.5 Z" fill="#3e3e40" fill-rule="evenodd"/>
<path d="M666 1224.3 L670.4 1231 L666 1237.7 L661.6 1231 Z M666 1229.53 L666.97 1231 L666 1232.47 L665.03 1231 Z" fill="#3e3e40" fill-rule="evenodd"/>
<path d="M675.1 1241.9 L679.5 1248.6 L675.1 1255.3 L670.7 1248.6 Z M675.1 1247.13 L676.07 1248.6 L675.1 1250.07 L674.13 1248.6 Z" fill="#3e3e40" fill-rule="evenodd"/>
<path d="M681.6 1259.6 L686 1266.3 L681.6 1273 L677.2 1266.3 Z M681.6 1264.83 L682.57 1266.3 L681.6 1267.77 L680.63 1266.3 Z" fill="#3e3e40" fill-rule="evenodd"/>
<path d="M687.7 1277.8 L692.1 1284.5 L687.7 1291.2 L683.3 1284.5 Z M687.7 1283.03 L688.67 1284.5 L687.7 1285.97 L686.73 1284.5 Z" fill="#3e3e40" fill-rule="evenodd"/>
<path d="M693.8 1295.5 L698.2 1302.2 L693.8 1308.9 L689.4 1302.2 Z M693.8 1300.73 L694.77 1302.2 L693.8 1303.67 L692.83 1302.2 Z" fill="#3e3e40" fill-rule="evenodd"/>
<path d="M700.2 1313.5 L704.6 1320.2 L700.2 1326.9 L695.8 1320.2 Z M700.2 1318.73 L701.17 1320.2 L700.2 1321.67 L699.23 1320.2 Z" fill="#3e3e40" fill-rule="evenodd"/>
<circle cx="292.5" cy="1027.3" r="3.4" fill="#3e3e40"/>
<circle cx="323.3" cy="1031.4" r="3.4" fill="#3e3e40"/>
<circle cx="354.5" cy="1035.3" r="3.4" fill="#3e3e40"/>
<circle cx="385.2" cy="1043.2" r="3.4" fill="#3e3e40"/>
<circle cx="416.1" cy="1050.7" r="3.4" fill="#3e3e40"/>
<circle cx="447" cy="1058" r="3.4" fill="#3e3e40"/>
<circle cx="461.2" cy="1065.8" r="3.4" fill="#3e3e40"/>
<circle cx="477.6" cy="1073.3" r="3.4" fill="#3e3e40"/>
<circle cx="489.8" cy="1080.8" r="3.4" fill="#3e3e40"/>
<circle cx="521.5" cy="1094" r="3.4" fill="#3e3e40"/>
<circle cx="539.5" cy="1104.5" r="3.4" fill="#3e3e40"/>
<circle cx="554.9" cy="1112" r="3.4" fill="#3e3e40"/>
<circle cx="567.1" cy="1119.6" r="3.4" fill="#3e3e40"/>
<circle cx="579.7" cy="1130.6" r="3.4" fill="#3e3e40"/>
<circle cx="591.7" cy="1142.1" r="3.4" fill="#3e3e40"/>
<circle cx="604.1" cy="1161.4" r="3.4" fill="#3e3e40"/>
<circle cx="616.6" cy="1180.3" r="3.4" fill="#3e3e40"/>
<circle cx="625.8" cy="1200" r="3.4" fill="#3e3e40"/>
<circle cx="631.7" cy="1218.9" r="3.4" fill="#3e3e40"/>
<circle cx="638.2" cy="1238.2" r="3.4" fill="#3e3e40"/>
<circle cx="644.3" cy="1257.5" r="3.4" fill="#3e3e40"/>
<circle cx="650.7" cy="1276.8" r="3.4" fill="#3e3e40"/>
<circle cx="656.8" cy="1295.7" r="3.4" fill="#3e3e40"/>
<circle cx="662.8" cy="1315" r="3.4" fill="#3e3e40"/>
</g>
<g>
<circle cx="1392.5" cy="964.9" r="4.9" fill="none" stroke="#231f20" stroke-width="2.8"/>
<circle cx="1447.8" cy="965" r="4.9" fill="none" stroke="#231f20" stroke-width="2.8"/>
<circle cx="1502.7" cy="970.2" r="4.9" fill="none" stroke="#231f20" stroke-width="2.8"/>
<circle cx="1530.9" cy="977.5" r="4.9" fill="none" stroke="#231f20" stroke-width="2.8"/>
<circle cx="1558.3" cy="984.4" r="4.9" fill="none" stroke="#231f20" stroke-width="2.8"/>
<circle cx="1586" cy="990.7" r="4.9" fill="none" stroke="#231f20" stroke-width="2.8"/>
<circle cx="1613.7" cy="997" r="4.9" fill="none" stroke="#231f20" stroke-width="2.8"/>
<circle cx="1641.4" cy="1003.8" r="4.9" fill="none" stroke="#231f20" stroke-width="2.8"/>
<circle cx="1669.1" cy="1010" r="4.9" fill="none" stroke="#231f20" stroke-width="2.8"/>
<circle cx="1696.8" cy="1016.8" r="4.9" fill="none" stroke="#231f20" stroke-width="2.8"/>
<circle cx="1724.4" cy="1023" r="4.9" fill="none" stroke="#231f20" stroke-width="2.8"/>
<circle cx="1746.4" cy="1036.1" r="4.9" fill="none" stroke="#231f20" stroke-width="2.8"/>
<circle cx="1768.5" cy="1048.6" r="4.9" fill="none" stroke="#231f20" stroke-width="2.8"/>
<circle cx="1791.4" cy="1061.9" r="4.9" fill="none" stroke="#231f20" stroke-width="2.8"/>
<circle cx="1807.6" cy="1081.1" r="4.9" fill="none" stroke="#231f20" stroke-width="2.8"/>
<circle cx="1823.8" cy="1101" r="4.9" fill="none" stroke="#231f20" stroke-width="2.8"/>
<circle cx="1840.7" cy="1126.7" r="4.9" fill="none" stroke="#231f20" stroke-width="2.8"/>
<circle cx="1851.8" cy="1152.5" r="4.9" fill="none" stroke="#231f20" stroke-width="2.8"/>
<circle cx="1862.6" cy="1178.3" r="4.9" fill="none" stroke="#231f20" stroke-width="2.8"/>
<circle cx="1873.6" cy="1204" r="4.9" fill="none" stroke="#231f20" stroke-width="2.8"/>
<path d="M1392.5 931 L1398.8 942.6 L1386.2 942.6 Z M1392.5 936.81 L1394.14 939.83 L1390.86 939.83 Z" fill="#231f20" fill-rule="evenodd"/>
<path d="M1447.8 930.9 L1454.1 942.5 L1441.5 942.5 Z M1447.8 936.71 L1449.44 939.73 L1446.16 939.73 Z" fill="#231f20" fill-rule="evenodd"/>
<path d="M1503.2 939.8 L1509.5 951.4 L1496.9 951.4 Z M1503.2 945.61 L1504.84 948.63 L1501.56 948.63 Z" fill="#231f20" fill-rule="evenodd"/>
<path d="M1530.9 947.7 L1537.2 959.3 L1524.6 959.3 Z M1530.9 953.51 L1532.54 956.53 L1529.26 956.53 Z" fill="#231f20" fill-rule="evenodd"/>
<path d="M1558.3 955.6 L1564.6 967.2 L1552 967.2 Z M1558.3 961.41 L1559.94 964.43 L1556.66 964.43 Z" fill="#231f20" fill-rule="evenodd"/>
<path d="M1586 963.5 L1592.3 975.1 L1579.7 975.1 Z M1586 969.31 L1587.64 972.33 L1584.36 972.33 Z" fill="#231f20" fill-rule="evenodd"/>
<path d="M1613.7 972.4 L1620 984 L1607.4 984 Z M1613.7 978.21 L1615.34 981.23 L1612.06 981.23 Z" fill="#231f20" fill-rule="evenodd"/>
<path d="M1641.4 980.7 L1647.7 992.3 L1635.1 992.3 Z M1641.4 986.51 L1643.04 989.53 L1639.76 989.53 Z" fill="#231f20" fill-rule="evenodd"/>
<path d="M1669.1 988.6 L1675.4 1000.2 L1662.8 1000.2 Z M1669.1 994.41 L1670.74 997.43 L1667.46 997.43 Z" fill="#231f20" fill-rule="evenodd"/>
<path d="M1696.8 996.9 L1703.1 1008.5 L1690.5 1008.5 Z M1696.8 1002.71 L1698.44 1005.73 L1695.16 1005.73 Z" fill="#231f20" fill-rule="evenodd"/>
<path d="M1718.6 1005.5 L1724.9 1017.1 L1712.3 1017.1 Z M1718.6 1011.31 L1720.24 1014.33 L1716.96 1014.33 Z" fill="#231f20" fill-rule="evenodd"/>
<path d="M1741.3 1022.2 L1747.6 1033.8 L1735 1033.8 Z M1741.3 1028.01 L1742.94 1031.03 L1739.66 1031.03 Z" fill="#231f20" fill-rule="evenodd"/>
<path d="M1763.4 1039.2 L1769.7 1050.8 L1757.1 1050.8 Z M1763.4 1045.01 L1765.04 1048.03 L1761.76 1048.03 Z" fill="#231f20" fill-rule="evenodd"/>
<path d="M1785.5 1055.4 L1791.8 1067 L1779.2 1067 Z M1785.5 1061.21 L1787.14 1064.23 L1783.86 1064.23 Z" fill="#231f20" fill-rule="evenodd"/>
<path d="M1807.6 1075.3 L1813.9 1086.9 L1801.3 1086.9 Z M1807.6 1081.11 L1809.24 1084.13 L1805.96 1084.13 Z" fill="#231f20" fill-rule="evenodd"/>
<path d="M1818.6 1106.2 L1824.9 1117.8 L1812.3 1117.8 Z M1818.6 1112.01 L1820.24 1115.03 L1816.96 1115.03 Z" fill="#231f20" fill-rule="evenodd"/>
<path d="M1829.4 1138.6 L1835.7 1150.2 L1823.1 1150.2 Z M1829.4 1144.41 L1831.04 1147.43 L1827.76 1147.43 Z" fill="#231f20" fill-rule="evenodd"/>
<path d="M1840.7 1171.8 L1847 1183.4 L1834.4 1183.4 Z M1840.7 1177.61 L1842.34 1180.63 L1839.06 1180.63 Z" fill="#231f20" fill-rule="evenodd"/>
<path d="M1851.7 1204.7 L1858 1216.3 L1845.4 1216.3 Z M1851.7 1210.51 L1853.34 1213.53 L1850.06 1213.53 Z" fill="#231f20" fill-rule="evenodd"/>
<path d="M1275.2 925.15h13v2.3h-13z M1280.55 919.8h2.3v13h-2.3z" fill="#231f20"/>
<path d="M1330.4 925.15h13v2.3h-13z M1335.75 919.8h2.3v13h-2.3z" fill="#231f20"/>
<path d="M1386 932.25h13v2.3h-13z M1391.35 926.9h2.3v13h-2.3z" fill="#231f20"/>
<path d="M1441.3 941.35h13v2.3h-13z M1446.65 936h2.3v13h-2.3z" fill="#231f20"/>
<path d="M1469 952.05h13v2.3h-13z M1474.35 946.7h2.3v13h-2.3z" fill="#231f20"/>
<path d="M1496.2 961.75h13v2.3h-13z M1501.55 956.4h2.3v13h-2.3z" fill="#231f20"/>
<path d="M1524.2 976.65h13v2.3h-13z M1529.55 971.3h2.3v13h-2.3z" fill="#231f20"/>
<path d="M1551.8 991.65h13v2.3h-13z M1557.15 986.3h2.3v13h-2.3z" fill="#231f20"/>
<path d="M1579.5 1004.55h13v2.3h-13z M1584.85 999.2h2.3v13h-2.3z" fill="#231f20"/>
<path d="M1607.2 1017.45h13v2.3h-13z M1612.55 1012.1h2.3v13h-2.3z" fill="#231f20"/>
<path d="M1634.9 1030.35h13v2.3h-13z M1640.25 1025h2.3v13h-2.3z" fill="#231f20"/>
<path d="M1679.3 1063.45h13v2.3h-13z M1684.65 1058.1h2.3v13h-2.3z" fill="#231f20"/>
<path d="M1701.4 1083.45h13v2.3h-13z M1706.75 1078.1h2.3v13h-2.3z" fill="#231f20"/>
<path d="M1717.9 1109.45h13v2.3h-13z M1723.25 1104.1h2.3v13h-2.3z" fill="#231f20"/>
<path d="M1734.8 1135.95h13v2.3h-13z M1740.15 1130.6h2.3v13h-2.3z" fill="#231f20"/>
<path d="M1750.9 1161.75h13v2.3h-13z M1756.25 1156.4h2.3v13h-2.3z" fill="#231f20"/>
<path d="M1762.3 1187.85h13v2.3h-13z M1767.65 1182.5h2.3v13h-2.3z" fill="#231f20"/>
<path d="M1773.2 1220.65h13v2.3h-13z M1778.55 1215.3h2.3v13h-2.3z" fill="#231f20"/>
<path d="M1784.1 1253.25h13v2.3h-13z M1789.45 1247.9h2.3v13h-2.3z" fill="#231f20"/>
<circle cx="1281.7" cy="938.8" r="4.3" fill="#231f20"/>
<circle cx="1336.9" cy="946" r="4.3" fill="#231f20"/>
<circle cx="1392.5" cy="953.1" r="4.3" fill="#231f20"/>
<circle cx="1447.8" cy="965" r="4.3" fill="#231f20"/>
<circle cx="1503.2" cy="981.7" r="4.3" fill="#231f20"/>
<circle cx="1530.4" cy="996.3" r="4.3" fill="#231f20"/>
<circle cx="1569.8" cy="1010.6" r="4.3" fill="#231f20"/>
<circle cx="1597" cy="1024.5" r="4.3" fill="#231f20"/>
<circle cx="1619.5" cy="1038.8" r="4.3" fill="#231f20"/>
<circle cx="1636" cy="1053.5" r="4.3" fill="#231f20"/>
<circle cx="1657.9" cy="1075" r="4.3" fill="#231f20"/>
<circle cx="1691.1" cy="1132" r="4.3" fill="#231f20"/>
<circle cx="1707.9" cy="1160.8" r="4.3" fill="#231f20"/>
<circle cx="1724.5" cy="1189.2" r="4.3" fill="#231f20"/>
<circle cx="1746.5" cy="1225.2" r="4.3" fill="#231f20"/>
<circle cx="1763" cy="1261" r="4.3" fill="#231f20"/>
<path d="M1132 868.3 L1137.6 876.3 L1132 884.3 L1126.4 876.3 Z M1132 873.74 L1133.79 876.3 L1132 878.86 L1130.21 876.3 Z" fill="#231f20" fill-rule="evenodd"/>
<path d="M1187.5 868.3 L1193.1 876.3 L1187.5 884.3 L1181.9 876.3 Z M1187.5 873.74 L1189.29 876.3 L1187.5 878.86 L1185.71 876.3 Z" fill="#231f20" fill-rule="evenodd"/>
<path d="M1243.1 875.5 L1248.7 883.5 L1243.1 891.5 L1237.5 883.5 Z M1243.1 880.94 L1244.89 883.5 L1243.1 886.06 L1241.31 883.5 Z" fill="#231f20" fill-rule="evenodd"/>
<path d="M1298.6 888.6 L1304.2 896.6 L1298.6 904.6 L1293 896.6 Z M1298.6 894.04 L1300.39 896.6 L1298.6 899.16 L1296.81 896.6 Z" fill="#231f20" fill-rule="evenodd"/>
<path d="M1326.1 901 L1331.7 909 L1326.1 917 L1320.5 909 Z M1326.1 906.44 L1327.89 909 L1326.1 911.56 L1324.31 909 Z" fill="#231f20" fill-rule="evenodd"/>
<path d="M1353.6 914.1 L1359.2 922.1 L1353.6 930.1 L1348 922.1 Z M1353.6 919.54 L1355.39 922.1 L1353.6 924.66 L1351.81 922.1 Z" fill="#231f20" fill-rule="evenodd"/>
<path d="M1380.8 927.1 L1386.4 935.1 L1380.8 943.1 L1375.2 935.1 Z M1380.8 932.54 L1382.59 935.1 L1380.8 937.66 L1379.01 935.1 Z" fill="#231f20" fill-rule="evenodd"/>
<path d="M1409 940 L1414.6 948 L1409 956 L1403.4 948 Z M1409 945.44 L1410.79 948 L1409 950.56 L1407.21 948 Z" fill="#231f20" fill-rule="evenodd"/>
<path d="M1436.3 952.8 L1441.9 960.8 L1436.3 968.8 L1430.7 960.8 Z M1436.3 958.24 L1438.09 960.8 L1436.3 963.36 L1434.51 960.8 Z" fill="#231f20" fill-rule="evenodd"/>
<path d="M1464.5 965.8 L1470.1 973.8 L1464.5 981.8 L1458.9 973.8 Z M1464.5 971.24 L1466.29 973.8 L1464.5 976.36 L1462.71 973.8 Z" fill="#231f20" fill-rule="evenodd"/>
<path d="M1491.9 978.9 L1497.5 986.9 L1491.9 994.9 L1486.3 986.9 Z M1491.9 984.34 L1493.69 986.9 L1491.9 989.46 L1490.11 986.9 Z" fill="#231f20" fill-rule="evenodd"/>
<path d="M1514.2 992 L1519.8 1000 L1514.2 1008 L1508.6 1000 Z M1514.2 997.44 L1515.99 1000 L1514.2 1002.56 L1512.41 1000 Z" fill="#231f20" fill-rule="evenodd"/>
<path d="M1536.5 1004.5 L1542.1 1012.5 L1536.5 1020.5 L1530.9 1012.5 Z M1536.5 1009.94 L1538.29 1012.5 L1536.5 1015.06 L1534.71 1012.5 Z" fill="#231f20" fill-rule="evenodd"/>
<path d="M1558.3 1024 L1563.9 1032 L1558.3 1040 L1552.7 1032 Z M1558.3 1029.44 L1560.09 1032 L1558.3 1034.56 L1556.51 1032 Z" fill="#231f20" fill-rule="evenodd"/>
<path d="M1575 1043.2 L1580.6 1051.2 L1575 1059.2 L1569.4 1051.2 Z M1575 1048.64 L1576.79 1051.2 L1575 1053.76 L1573.21 1051.2 Z" fill="#231f20" fill-rule="evenodd"/>
<path d="M1597 1068.6 L1602.6 1076.6 L1597 1084.6 L1591.4 1076.6 Z M1597 1074.04 L1598.79 1076.6 L1597 1079.16 L1595.21 1076.6 Z" fill="#231f20" fill-rule="evenodd"/>
<path d="M1619.5 1094.7 L1625.1 1102.7 L1619.5 1110.7 L1613.9 1102.7 Z M1619.5 1100.14 L1621.29 1102.7 L1619.5 1105.26 L1617.71 1102.7 Z" fill="#231f20" fill-rule="evenodd"/>
<path d="M1636 1120.7 L1641.6 1128.7 L1636 1136.7 L1630.4 1128.7 Z M1636 1126.14 L1637.79 1128.7 L1636 1131.26 L1634.21 1128.7 Z" fill="#231f20" fill-rule="evenodd"/>
<path d="M1646.9 1146.3 L1652.5 1154.3 L1646.9 1162.3 L1641.3 1154.3 Z M1646.9 1151.74 L1648.69 1154.3 L1646.9 1156.86 L1645.11 1154.3 Z" fill="#231f20" fill-rule="evenodd"/>
<path d="M1658 1179.3 L1663.6 1187.3 L1658 1195.3 L1652.4 1187.3 Z M1658 1184.74 L1659.79 1187.3 L1658 1189.86 L1656.21 1187.3 Z" fill="#231f20" fill-rule="evenodd"/>
<path d="M1669.2 1212 L1674.8 1220 L1669.2 1228 L1663.6 1220 Z M1669.2 1217.44 L1670.99 1220 L1669.2 1222.56 L1667.41 1220 Z" fill="#231f20" fill-rule="evenodd"/>
<path d="M1680.2 1243.9 L1685.8 1251.9 L1680.2 1259.9 L1674.6 1251.9 Z M1680.2 1249.34 L1681.99 1251.9 L1680.2 1254.46 L1678.41 1251.9 Z" fill="#231f20" fill-rule="evenodd"/>
</g>
<circle cx="677.7" cy="83.7" r="7.3" fill="none" stroke="#231f20" stroke-width="2.9"/>
<text transform="translate(695.8 91.7)" font-size="25.3" fill="#231f20">460 nm</text>
<path d="M677.7 97.3 L686.3 113.3 L669.1 113.3 Z M677.7 103.27 L681.57 110.47 L673.83 110.47 Z" fill="#231f20" fill-rule="evenodd"/>
<text transform="translate(695.8 115.1)" font-size="25.3" fill="#231f20">500 nm</text>
<path d="M668.9 129.8h17.6v3h-17.6z M676.2 122.5h3v17.6h-3z" fill="#231f20"/>
<text transform="translate(695.8 140)" font-size="25.3" fill="#231f20">570 nm</text>
<path d="M677.7 143.2 L685.5 154.7 L677.7 166.2 L669.9 154.7 Z M677.7 147.8 L682.38 154.7 L677.7 161.6 L673.02 154.7 Z" fill="#231f20" fill-rule="evenodd"/>
<text transform="translate(695.8 163.5)" font-size="25.3" fill="#231f20">635 nm</text>
<circle cx="1675.5" cy="84.9" r="7.3" fill="none" stroke="#231f20" stroke-width="2.9"/>
<text transform="translate(1691.7 93.2)" font-size="25.3" fill="#231f20">460 nm</text>
<path d="M1675.5 99.1 L1684.1 115.1 L1666.9 115.1 Z M1675.5 105.07 L1679.37 112.27 L1671.63 112.27 Z" fill="#231f20" fill-rule="evenodd"/>
<text transform="translate(1691.7 115.5)" font-size="25.3" fill="#231f20">500 nm</text>
<path d="M1666.7 131.4h17.6v3h-17.6z M1674 124.1h3v17.6h-3z" fill="#231f20"/>
<text transform="translate(1691.7 140.4)" font-size="25.3" fill="#231f20">570 nm</text>
<path d="M1675.5 145 L1683.3 156.5 L1675.5 168 L1667.7 156.5 Z M1675.5 149.6 L1680.18 156.5 L1675.5 163.4 L1670.82 156.5 Z" fill="#231f20" fill-rule="evenodd"/>
<text transform="translate(1691.7 164.9)" font-size="25.3" fill="#231f20">635 nm</text>
<circle cx="677.6" cy="869.3" r="7.4" fill="none" stroke="#3e3e40" stroke-width="3.6"/>
<text transform="translate(690.9 877.8)" font-size="25.7" fill="#231f20">11oba pure</text>
<path d="M677.6 883.3 L686.6 899.1 L668.6 899.1 Z M677.6 889.11 L681.65 896.22 L673.55 896.22 Z" fill="#3e3e40" fill-rule="evenodd"/>
<text transform="translate(690.9 899.4)" font-size="25.7" fill="#231f20">11oba mix 1</text>
<path d="M668.45 915.25h18.3v3.1h-18.3z M676.05 908.2h3.1v17.2h-3.1z" fill="#3e3e40"/>
<text transform="translate(690.9 925.7)" font-size="25.7" fill="#231f20">11oba mix 2</text>
<path d="M677.6 928.5 L685.35 940.5 L677.6 952.5 L669.85 940.5 Z M677.6 933.3 L682.25 940.5 L677.6 947.7 L672.95 940.5 Z" fill="#3e3e40" fill-rule="evenodd"/>
<text transform="translate(690.9 949.7)" font-size="25.7" fill="#231f20">11oba mix 3</text>
<circle cx="677.6" cy="964.5" r="5.6" fill="#3e3e40"/>
<text transform="translate(690.9 972.3)" font-size="25.7" fill="#231f20">11oba mix 4</text>
<circle cx="1622.6" cy="866.8" r="7.2" fill="none" stroke="#231f20" stroke-width="3.2"/>
<text transform="translate(1638.8 873.8)" font-size="25.4" fill="#231f20">12oba pure</text>
<path d="M1622.6 880.7 L1631.3 897.1 L1613.9 897.1 Z M1622.6 886.84 L1626.51 894.22 L1618.68 894.22 Z" fill="#231f20" fill-rule="evenodd"/>
<text transform="translate(1638.8 896.6)" font-size="25.4" fill="#231f20">12oba mix 1</text>
<path d="M1613.9 913.5h17.4v3h-17.4z M1621.1 905.6h3v18.8h-3z" fill="#231f20"/>
<text transform="translate(1638.8 921.5)" font-size="25.4" fill="#231f20">12oba mix 2</text>
<circle cx="1622.6" cy="938.9" r="6.2" fill="#231f20"/>
<text transform="translate(1638.8 945.8)" font-size="25.4" fill="#231f20">12oba mix 3</text>
<path d="M1622.6 950.3 L1630.3 962.2 L1622.6 974.1 L1614.9 962.2 Z M1622.6 955.06 L1627.22 962.2 L1622.6 969.34 L1617.98 962.2 Z" fill="#231f20" fill-rule="evenodd"/>
<text transform="translate(1638.8 969.6)" font-size="25.4" fill="#231f20">12oba mix 4</text>
</svg>
</body></html>
